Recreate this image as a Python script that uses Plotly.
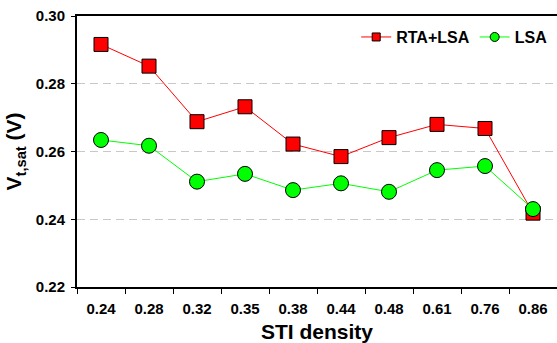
import plotly.graph_objects as go

categories = ["0.24", "0.28", "0.32", "0.35", "0.38", "0.44", "0.48", "0.61", "0.76", "0.86"]
rta_lsa = [0.2916, 0.2852, 0.2688, 0.2732, 0.2622, 0.2585, 0.2641, 0.2680, 0.2668, 0.2418]
lsa = [0.2634, 0.2617, 0.2511, 0.2534, 0.2486, 0.2506, 0.2481, 0.2545, 0.2557, 0.2430]
y_ticks = [0.22, 0.24, 0.26, 0.28, 0.30]

FONT = "Arial, 'Liberation Sans', sans-serif"
RED = "#ff0000"
GREEN = "#00ff00"

fig = go.Figure()
fig.add_trace(go.Scatter(
    x=categories, y=rta_lsa, mode="lines+markers", name="RTA+LSA", showlegend=False,
    line=dict(color=RED, width=1),
    marker=dict(symbol="square", size=14, color=RED, line=dict(color="black", width=1)),
))
fig.add_trace(go.Scatter(
    x=categories, y=lsa, mode="lines+markers", name="LSA", showlegend=False,
    line=dict(color=GREEN, width=1),
    marker=dict(symbol="circle", size=15, color=GREEN, line=dict(color="black", width=1)),
))
# legend entries with the smaller legend symbols
fig.add_trace(go.Scatter(
    x=[None], y=[None], mode="lines+markers", name="RTA+LSA",
    line=dict(color=RED, width=1),
    marker=dict(symbol="square", size=8, color=RED, line=dict(color="black", width=1)),
))
fig.add_trace(go.Scatter(
    x=[None], y=[None], mode="lines+markers", name="LSA",
    line=dict(color=GREEN, width=1),
    marker=dict(symbol="circle", size=9, color=GREEN, line=dict(color="black", width=1)),
))

fig.update_layout(
    width=557, height=343,
    margin=dict(l=77, r=0, t=16, b=56),
    paper_bgcolor="white", plot_bgcolor="white",
    font=dict(family=FONT, color="black"),
    showlegend=True,
    legend=dict(
        orientation="h", x=0.99, xanchor="right", y=0.985, yanchor="top",
        bgcolor="rgba(0,0,0,0)", font=dict(size=16, family=FONT, weight="bold"),
        itemwidth=30, tracegroupgap=0,
    ),
    xaxis=dict(
        type="category", categoryorder="array", categoryarray=categories,
        range=[-0.5, 9.5],
        showline=True, linecolor="black", linewidth=2, mirror=True,
        ticks="outside", tickson="boundaries", ticklen=5, tickcolor="black", tickwidth=1,
        showgrid=False, ticklabelstandoff=7,
        tickfont=dict(size=15, family=FONT, weight="bold"),
        title=dict(text="<b>STI density</b>", font=dict(size=21, family=FONT), standoff=8),
    ),
    yaxis=dict(
        range=[0.22, 0.30], tickvals=y_ticks, tickformat=".2f",
        showline=True, linecolor="black", linewidth=2, mirror=False,
        ticks="outside", ticklen=4, tickcolor="black", tickwidth=1,
        showgrid=True, gridcolor="#c8c8c8", gridwidth=1, griddash="8px,5px",
        zeroline=False, ticklabelstandoff=3,
        tickfont=dict(size=15, family=FONT, weight="bold"),
        title=dict(text="<b>V<sub>t,sat</sub> (V)</b>", font=dict(size=21, family=FONT), standoff=8),
    ),
)

fig.write_html("out.html")
